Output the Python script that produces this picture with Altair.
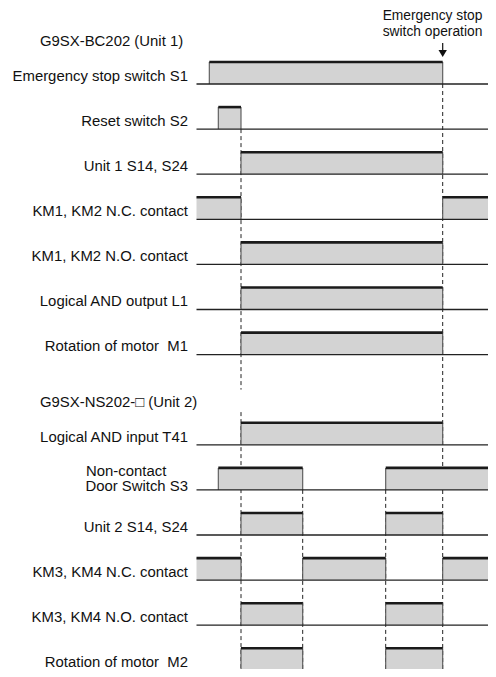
import altair as alt
import pandas as pd

# ---- time events (arbitrary time units, relative to diagram start) ----
T0 = 0.0
S1_ON = 12.8
S2_ON = 21.8
T_RST = 44.5
DOOR_OPEN = 106.2
DOOR_CLOSE = 189.2
ESTOP = 246.2
T_END = 300.0

# ---- signal rows ----
row_labels = [
    "Emergency stop switch S1",
    "Reset switch S2",
    "Unit 1 S14, S24",
    "KM1, KM2 N.C. contact",
    "KM1, KM2 N.O. contact",
    "Logical AND output L1",
    "Rotation of motor\u00a0 M1",
    "Logical AND input T41",
    "Door Switch S3",
    "Unit 2 S14, S24",
    "KM3, KM4 N.C. contact",
    "KM3, KM4 N.O. contact",
    "Rotation of motor\u00a0 M2",
]
row_index = [0, 1, 2, 3, 4, 5, 6, 8, 9, 10, 11, 12, 13]
row_high = [
    [(S1_ON, ESTOP)],
    [(S2_ON, T_RST)],
    [(T_RST, ESTOP)],
    [(T0, T_RST), (ESTOP, T_END)],
    [(T_RST, ESTOP)],
    [(T_RST, ESTOP)],
    [(T_RST, ESTOP)],
    [(T_RST, ESTOP)],
    [(S2_ON, DOOR_OPEN), (DOOR_CLOSE, T_END)],
    [(T_RST, DOOR_OPEN), (DOOR_CLOSE, ESTOP)],
    [(T0, T_RST), (DOOR_OPEN, DOOR_CLOSE), (ESTOP, T_END)],
    [(T_RST, DOOR_OPEN), (DOOR_CLOSE, ESTOP)],
    [(T_RST, DOOR_OPEN), (DOOR_CLOSE, ESTOP)],
]

SP = 45.1          # row spacing (px) used only to express offsets in row units
ROW0 = 76.0        # first baseline position in the plot (px)
HIGH = 22 / SP     # pulse height in row units
TXT_OFF = 3.3 / SP

# dashed time markers: (time, from row, to row)
dash_x = [T_RST, T_RST, ESTOP, DOOR_OPEN, DOOR_CLOSE]
dash_y1 = [1, 8 - 32.7 / SP, 0, 9, 9]
dash_y2 = [6 + 35 / SP, 13.5, 13.5, 13.5, 13.5]

LABEL_X = -8.5

# ---- tables ----
iv = []
for r, highs in zip(row_index, row_high):
    for a, b in highs:
        iv.append({"row": r, "x": a, "x2": b, "top": r - HIGH})
iv_df = pd.DataFrame(iv)

edges = []
for r, highs in zip(row_index, row_high):
    for a, b in highs:
        for t in (a, b):
            if t not in (T0, T_END):
                edges.append({"x": t, "y": r, "y2": r - HIGH})
edge_df = pd.DataFrame(edges)

base_df = pd.DataFrame({"row": row_index, "x": [T0] * len(row_index), "x2": [T_END] * len(row_index)})
dash_df = pd.DataFrame({"x": dash_x, "y": dash_y1, "y2": dash_y2})

lab_df = pd.DataFrame({"label": row_labels, "x": [LABEL_X] * len(row_labels),
                       "y": [r - TXT_OFF for r in row_index]})
lab_df.loc[lab_df["label"] == "Door Switch S3", "y"] = 9 + 1.3 / SP

left_text = pd.DataFrame({
    "label": ["G9SX-BC202 (Unit 1)", "G9SX-NS202-\u25a1 (Unit 2)", "Non-contact"],
    "x": [-156.5, -156.5, -110.5],
    "y": [-38 / SP, 8 - 37.7 / SP, 9 - 13.7 / SP],
})
top_text = pd.DataFrame({
    "label": ["Emergency stop", "switch operation"],
    "x": [236.0, 236.0],
    "y": [-64 / SP, -48.5 / SP],
})
arrow_df = pd.DataFrame({"x": [ESTOP], "y": [-41 / SP], "y2": [-34 / SP]})
head_df = pd.DataFrame({"x": [ESTOP], "y": [-30.5 / SP]})

xs = alt.Scale(domain=[-188.5, 291.5], nice=False, zero=False)
ys = alt.Scale(domain=[-ROW0 / SP, (661 - ROW0) / SP], reverse=True, nice=False, zero=False)
X = lambda f: alt.X(f, type="quantitative", scale=xs, axis=None)
Y = lambda f: alt.Y(f, type="quantitative", scale=ys, axis=None)

FONT = "Liberation Sans"
FS = 14.9

dashes = alt.Chart(dash_df).mark_rule(color="#222", strokeWidth=1, strokeDash=[4, 3], clip=True).encode(
    x=X("x"), y=Y("y"), y2="y2")
fills = alt.Chart(iv_df).mark_rect(color="#d3d3d3", clip=True).encode(
    x=X("x"), x2="x2", y=Y("row"), y2="top")
edge = alt.Chart(edge_df).mark_rule(color="#555", strokeWidth=1.1, clip=True).encode(
    x=X("x"), y=Y("y"), y2="y2")
tops = alt.Chart(iv_df).mark_rule(color="#1a1a1a", strokeWidth=2.6, clip=True).encode(
    x=X("x"), x2="x2", y=Y("top"))
bases = alt.Chart(base_df).mark_rule(color="#222", strokeWidth=1.3, clip=True).encode(
    x=X("x"), x2="x2", y=Y("row"))
labels = alt.Chart(lab_df).mark_text(align="right", baseline="alphabetic", font=FONT, fontSize=FS, color="#111").encode(
    x=X("x"), y=Y("y"), text="label")
ltext = alt.Chart(left_text).mark_text(align="left", baseline="alphabetic", font=FONT, fontSize=FS, color="#111").encode(
    x=X("x"), y=Y("y"), text="label")
ttext = alt.Chart(top_text).mark_text(align="center", baseline="alphabetic", font=FONT, fontSize=13.8, color="#111").encode(
    x=X("x"), y=Y("y"), text="label")
shaft = alt.Chart(arrow_df).mark_rule(color="#111", strokeWidth=1.2).encode(
    x=X("x"), y=Y("y"), y2="y2")
head = alt.Chart(head_df).mark_point(shape="triangle-down", filled=True, color="#111", size=70, opacity=1).encode(
    x=X("x"), y=Y("y"))

chart = alt.layer(dashes, fills, edge, tops, bases, labels, ltext, ttext, shaft, head).properties(
    width=480, height=661, padding=0, autosize=alt.AutoSizeParams(type="none")
).configure_view(stroke=None)

chart.save("out.html", embed_options={"renderer": "svg", "actions": False})
